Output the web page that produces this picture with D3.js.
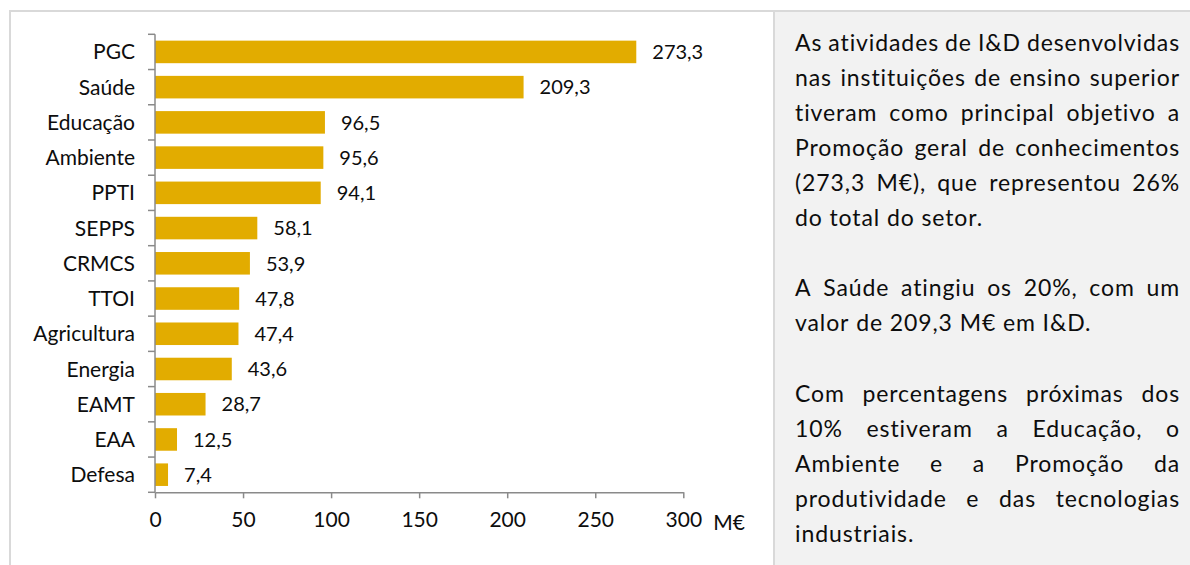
<!DOCTYPE html>
<html>
<head>
<meta charset="utf-8">
<script src="https://cdn.jsdelivr.net/npm/d3@7"></script>
<style>
  html, body { margin: 0; padding: 0; background: #ffffff; }
  svg { display: block; font-family: Lato, "Open Sans", sans-serif; font-variant-ligatures: none; }
</style>
</head>
<body>
<svg id="chart" width="1190" height="565"></svg>
<script>
// R&D expenditure in higher education by socio-economic objective (M€)
const categories = ["PGC", "Saúde", "Educação", "Ambiente", "PPTI", "SEPPS", "CRMCS",
                    "TTOI", "Agricultura", "Energia", "EAMT", "EAA", "Defesa"];
const values = [273.3, 209.3, 96.5, 95.6, 94.1, 58.1, 53.9, 47.8, 47.4, 43.6, 28.7, 12.5, 7.4];
const xTicks = [0, 50, 100, 150, 200, 250, 300];
const unitLabel = "M€";

// Commentary paragraphs, one entry per printed line
const paragraphs = [
  ["As atividades de I&D desenvolvidas",
   "nas instituições de ensino superior",
   "tiveram como principal objetivo a",
   "Promoção geral de conhecimentos",
   "(273,3 M€), que representou 26%",
   "do total do setor."],
  ["A Saúde atingiu os 20%, com um",
   "valor de 209,3 M€ em I&D."],
  ["Com percentagens próximas dos",
   "10% estiveram a Educação, o",
   "Ambiente e a Promoção da",
   "produtividade e das tecnologias",
   "industriais."]
];

const W = 1190, H = 565;
const svg = d3.select("#chart");
const fontSize = 21;
const noteSize = 23;
const textColor = "#0d0d0d";
const axisColor = "#8a8a8a";
const barColor = "#E2AC00";

const locale = d3.formatLocale({ decimal: ",", thousands: " ", grouping: [3], currency: ["", " €"] });
const fmt = locale.format(".1f");

// Panels: white chart frame on the left, grey commentary box on the right
const panelSplit = 774;
svg.append("rect").attr("x", 0).attr("y", 0).attr("width", W).attr("height", H).attr("fill", "#ffffff");
svg.append("rect").attr("x", panelSplit).attr("y", 11).attr("width", W - panelSplit).attr("height", H)
  .attr("fill", "#f2f2f2");
svg.append("path")
  .attr("d", `M10,${H + 5} V11 H${W + 5} M${panelSplit},11 V${H + 5}`)
  .attr("fill", "none").attr("stroke", "#d9d9d9").attr("stroke-width", 2);

// Scales
const plot = { left: 155, right: 683.3, top: 34.3, bottom: 492.3 };
const x = d3.scaleLinear().domain([0, 300]).range([plot.left, plot.right]);
const y = d3.scaleBand().domain(categories).range([plot.top, plot.bottom])
  .paddingInner(0.36).paddingOuter(0.18);
const step = y.step();

const g = svg.append("g");

// Bars
g.selectAll("rect.bar")
  .data(categories)
  .join("rect")
  .attr("class", "bar")
  .attr("x", x(0))
  .attr("y", d => y(d))
  .attr("width", (d, i) => x(values[i]) - x(0))
  .attr("height", y.bandwidth())
  .attr("fill", barColor);

// Value labels
g.selectAll("text.val")
  .data(categories)
  .join("text")
  .attr("class", "val")
  .attr("x", (d, i) => x(values[i]) + 16)
  .attr("y", d => y(d) + y.bandwidth() / 2)
  .attr("dy", "0.36em")
  .attr("font-size", 20)
  .attr("fill", textColor)
  .text((d, i) => fmt(values[i]));

// Category axis: labels at band centres, tick marks on band boundaries
const yAxis = g.append("g").attr("transform", `translate(${plot.left},0)`)
  .call(d3.axisLeft(y).tickSize(0).tickPadding(20));
yAxis.select(".domain").remove();
yAxis.selectAll("text")
  .attr("font-size", fontSize).attr("font-family", "Lato, 'Open Sans', sans-serif")
  .attr("fill", textColor).attr("dy", "0.36em");

const boundaries = d3.range(categories.length + 1).map(i => plot.top + i * step);
g.append("g").selectAll("line")
  .data(boundaries)
  .join("line")
  .attr("x1", plot.left - 7).attr("x2", plot.left)
  .attr("y1", d => d).attr("y2", d => d)
  .attr("stroke", axisColor).attr("stroke-width", 1.5);
g.append("line")
  .attr("x1", plot.left).attr("x2", plot.left)
  .attr("y1", plot.top).attr("y2", plot.bottom)
  .attr("stroke", axisColor).attr("stroke-width", 1.5);

// Value axis
const xAxis = g.append("g").attr("transform", `translate(0,${plot.bottom})`)
  .call(d3.axisBottom(x).tickValues(xTicks).tickSize(6).tickSizeOuter(0).tickPadding(14)
    .tickFormat(d3.format("d")));
xAxis.select(".domain").attr("stroke", axisColor).attr("stroke-width", 1.5);
xAxis.selectAll(".tick line").attr("stroke", axisColor).attr("stroke-width", 1.5);
xAxis.selectAll("text")
  .attr("font-size", fontSize).attr("font-family", "Lato, 'Open Sans', sans-serif")
  .attr("fill", textColor).attr("dy", "0.72em");

g.append("text")
  .attr("x", x(300) + 30).attr("y", 530)
  .attr("font-size", fontSize).attr("fill", textColor)
  .text(unitLabel);

// Commentary: justified lines, last line of each paragraph left-aligned
const textLeft = 795, textRight = 1180;
const lineGap = 35.1;
const box = svg.append("g").attr("font-size", noteSize).attr("fill", textColor)
  .attr("letter-spacing", "0.9px");
let baseline = 50.5;
paragraphs.forEach(lines => {
  lines.forEach((line, li) => {
    const words = line.split(" ");
    const row = box.append("g");
    const nodes = words.map(w => row.append("text").attr("y", baseline).text(w));
    const widths = nodes.map(n => n.node().getComputedTextLength());
    const probe = row.append("text").text("a a");
    const probe2 = row.append("text").text("aa");
    const spaceW = probe.node().getComputedTextLength() - probe2.node().getComputedTextLength();
    probe.remove(); probe2.remove();
    const isLast = li === lines.length - 1;
    const total = d3.sum(widths);
    const gap = (!isLast && words.length > 1)
      ? (textRight - textLeft - total) / (words.length - 1)
      : spaceW;
    let cx = textLeft;
    nodes.forEach((n, i) => { n.attr("x", cx); cx += widths[i] + gap; });
    baseline += lineGap;
  });
  baseline += lineGap;
});
</script>
</body>
</html>
